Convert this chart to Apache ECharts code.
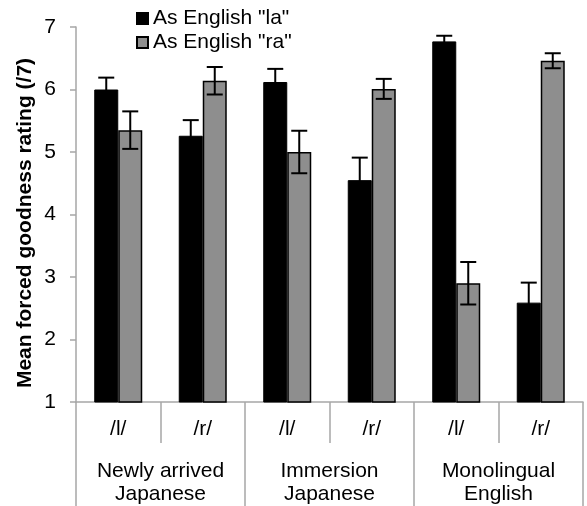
<!DOCTYPE html>
<html>
<head>
<meta charset="utf-8">
<script src="https://cdn.jsdelivr.net/npm/echarts@6/dist/echarts.min.js"></script>
<style>
html,body{margin:0;padding:0;background:#fff;}
#chart{width:587px;height:506px;}
</style>
</head>
<body>
<div id="chart"></div>
<script>
var subCategories = ['/l/', '/r/', '/l/', '/r/', '/l/', '/r/'];
var groupLabels = ['Newly arrived\nJapanese', 'Immersion\nJapanese', 'Monolingual\nEnglish'];
var seriesNames = ['As English "la"', 'As English "ra"'];
var yAxisTitle = 'Mean forced goodness rating (/7)';
var laValues = [6.00, 5.26, 6.12, 4.55, 6.77, 2.59];
var laErrors = [0.19, 0.25, 0.21, 0.36, 0.09, 0.32];
var raValues = [5.35, 6.14, 5.00, 6.01, 2.90, 6.46];
var raErrors = [0.30, 0.22, 0.34, 0.16, 0.34, 0.12];
var yTicks = [1, 2, 3, 4, 5, 6, 7];

var FONT = "'Liberation Sans', Arial, sans-serif";
var BAR_W = 24;
var AXIS_GRAY = '#a6a6a6';

function errData(vals, errs) {
  return vals.map(function (v, i) { return [i, v, errs[i]]; });
}

function errRender(offset) {
  return function (params, api) {
    var i = api.value(0), v = api.value(1), e = api.value(2);
    var top = api.coord([i, v + e]);
    var bot = api.coord([i, v - e]);
    var x = top[0] + offset;
    var cap = 8;
    var st = { stroke: '#000', lineWidth: 2 };
    return {
      type: 'group',
      children: [
        { type: 'line', shape: { x1: x, y1: top[1], x2: x, y2: bot[1] }, style: st },
        { type: 'line', shape: { x1: x - cap, y1: top[1], x2: x + cap, y2: top[1] }, style: st },
        { type: 'line', shape: { x1: x - cap, y1: bot[1], x2: x + cap, y2: bot[1] }, style: st }
      ]
    };
  };
}

var chart = echarts.init(document.getElementById('chart'), null, { renderer: 'canvas' });
chart.setOption({
  animation: false,
  backgroundColor: '#fff',
  textStyle: { fontFamily: FONT },
  grid: { left: 76, right: 4, top: 27, bottom: 104, containLabel: false },
  graphic: [
    {
      type: 'text',
      x: 25,
      y: 223,
      rotation: Math.PI / 2,
      style: {
        text: yAxisTitle,
        fontFamily: FONT,
        fontSize: 21,
        fontWeight: 'bold',
        fill: '#000',
        align: 'center',
        verticalAlign: 'middle'
      }
    }
  ],
  legend: {
    data: seriesNames,
    orient: 'vertical',
    left: 131,
    top: 3,
    itemWidth: 11,
    itemHeight: 11,
    itemGap: 3,
    icon: 'rect',
    textStyle: { fontFamily: FONT, fontSize: 21, color: '#000' }
  },
  xAxis: [
    {
      type: 'category',
      data: subCategories,
      position: 'bottom',
      axisLine: { show: true, lineStyle: { color: AXIS_GRAY, width: 1.5 } },
      axisTick: { show: true, length: 41, lineStyle: { color: AXIS_GRAY, width: 1.5 } },
      axisLabel: { fontFamily: FONT, fontSize: 21, color: '#000', margin: 17 },
      splitLine: { show: false }
    },
    {
      type: 'category',
      data: groupLabels,
      position: 'bottom',
      gridIndex: 0,
      axisLine: { show: false },
      axisTick: { show: true, length: 110, lineStyle: { color: AXIS_GRAY, width: 1.5 } },
      axisLabel: { fontFamily: FONT, fontSize: 21, color: '#000', margin: 58, lineHeight: 23 },
      splitLine: { show: false }
    }
  ],
  yAxis: {
    type: 'value',
    min: yTicks[0],
    max: yTicks[yTicks.length - 1],
    interval: 1,
    axisLine: { show: true, lineStyle: { color: AXIS_GRAY, width: 1.5 } },
    axisTick: { show: true, length: 6, lineStyle: { color: AXIS_GRAY, width: 1.5 } },
    axisLabel: { fontFamily: FONT, fontSize: 21, color: '#000', margin: 20 },
    splitLine: { show: false }
  },
  series: [
    {
      name: seriesNames[0],
      type: 'bar',
      data: laValues,
      barWidth: BAR_W,
      barGap: '0%',
      itemStyle: { color: '#000', borderColor: '#000', borderWidth: 1 }
    },
    {
      name: seriesNames[1],
      type: 'bar',
      data: raValues,
      barWidth: BAR_W,
      barGap: '0%',
      itemStyle: { color: '#8e8e8e', borderColor: '#000', borderWidth: 1.5 }
    },
    {
      type: 'custom',
      data: errData(laValues, laErrors),
      renderItem: errRender(-BAR_W / 2),
      encode: { x: 0, y: 1 },
      z: 5
    },
    {
      type: 'custom',
      data: errData(raValues, raErrors),
      renderItem: errRender(BAR_W / 2),
      encode: { x: 0, y: 1 },
      z: 5
    }
  ]
});
</script>
</body>
</html>
